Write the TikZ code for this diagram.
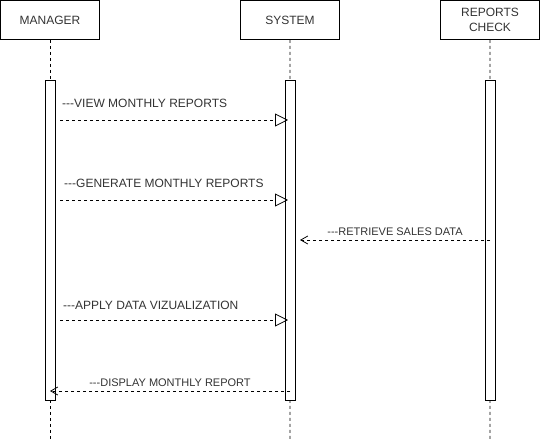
\documentclass[tikz,border=0pt]{standalone}
\usepackage{fontspec}
\setmainfont{Liberation Sans}[Ligatures=TeXOff]
\usetikzlibrary{positioning}
\usetikzlibrary{arrows.meta}
\definecolor{txtgray}{HTML}{333333}
\tikzset{%
	% Specifications for style of nodes:
	actor/.style = {rectangle, draw=black, line width=0.8pt, minimum width=99pt, minimum height=39pt, inner sep=0pt, align=center, text=txtgray, font=\fontsize{12}{14.5}\selectfont},
	bar/.style = {rectangle, draw=black, fill=white, line width=0.8pt, minimum width=10pt, minimum height=320pt, inner sep=0pt},
	lbl/.style = {inner sep=0pt, text=txtgray, font=\fontsize{12}{14}\selectfont},
	rlbl/.style = {lbl, font=\fontsize{11}{13}\selectfont},
	% Specifications for style of lines:
	life/.style = {line width=0.8pt, dash pattern=on 3pt off 3pt},
	call/.style = {life, -{Triangle[open,length=13pt,width=13pt]}},
	reply/.style = {life, -{Straight Barb[length=7pt,width=8pt]}},
}

\begin{document}
\begin{tikzpicture}[x=1pt,y=-1pt]
		\useasboundingbox (0,0) rectangle (541,441);
		\node (Manager) [actor] at (50,20) {MANAGER};
		\node (System) [actor, right=140.2pt of Manager] {SYSTEM};
		\node (Check) [actor, right=100.2pt of System] {REPORTS\\CHECK};
		
		\coordinate (ManagerEnd) at (50,441);
		\coordinate (SystemEnd) at (290,441);
		\coordinate (CheckEnd) at (490,441);
		
		\draw [life] (Manager) -- (ManagerEnd);
		\draw [life] (System) -- (SystemEnd);
		\draw [life] (Check) -- (CheckEnd);
		
		\node (ManagerBar) [bar] at (50,240) {};
		\node (SystemBar) [bar] at (290,240) {};
		\node (CheckBar) [bar] at (490,240) {};
		
		% messages
		\coordinate (ViewA) at (60,120);
		\coordinate (ViewB) at (288,120);
		\coordinate (GenA) at (60,200);
		\coordinate (GenB) at (288,200);
		\coordinate (SalesA) at (490,240);
		\coordinate (SalesB) at (300,240);
		\coordinate (VizA) at (60,320);
		\coordinate (VizB) at (288,320);
		\coordinate (ShowA) at (290,391);
		\coordinate (ShowB) at (50,391);
		
		\node (ViewLbl) [lbl, anchor=west] at (62,103) {---VIEW MONTHLY REPORTS};
		\node (GenLbl) [lbl, anchor=west] at (64,183) {---GENERATE MONTHLY REPORTS};
		\node (SalesLbl) [rlbl] at (395,231.5) {---RETRIEVE SALES DATA};
		\node (VizLbl) [lbl, anchor=west] at (63,305) {---APPLY DATA VIZUALIZATION};
		\node (ShowLbl) [rlbl] at (170,382.5) {---DISPLAY MONTHLY REPORT};
		
		\draw [call] (ViewA) -- (ViewB);
		\draw [call] (GenA) -- (GenB);
		\draw [reply] (SalesA) -- (SalesB);
		\draw [call] (VizA) -- (VizB);
		\draw [reply] (ShowA) -- (ShowB);
		
\end{tikzpicture}
\end{document}
